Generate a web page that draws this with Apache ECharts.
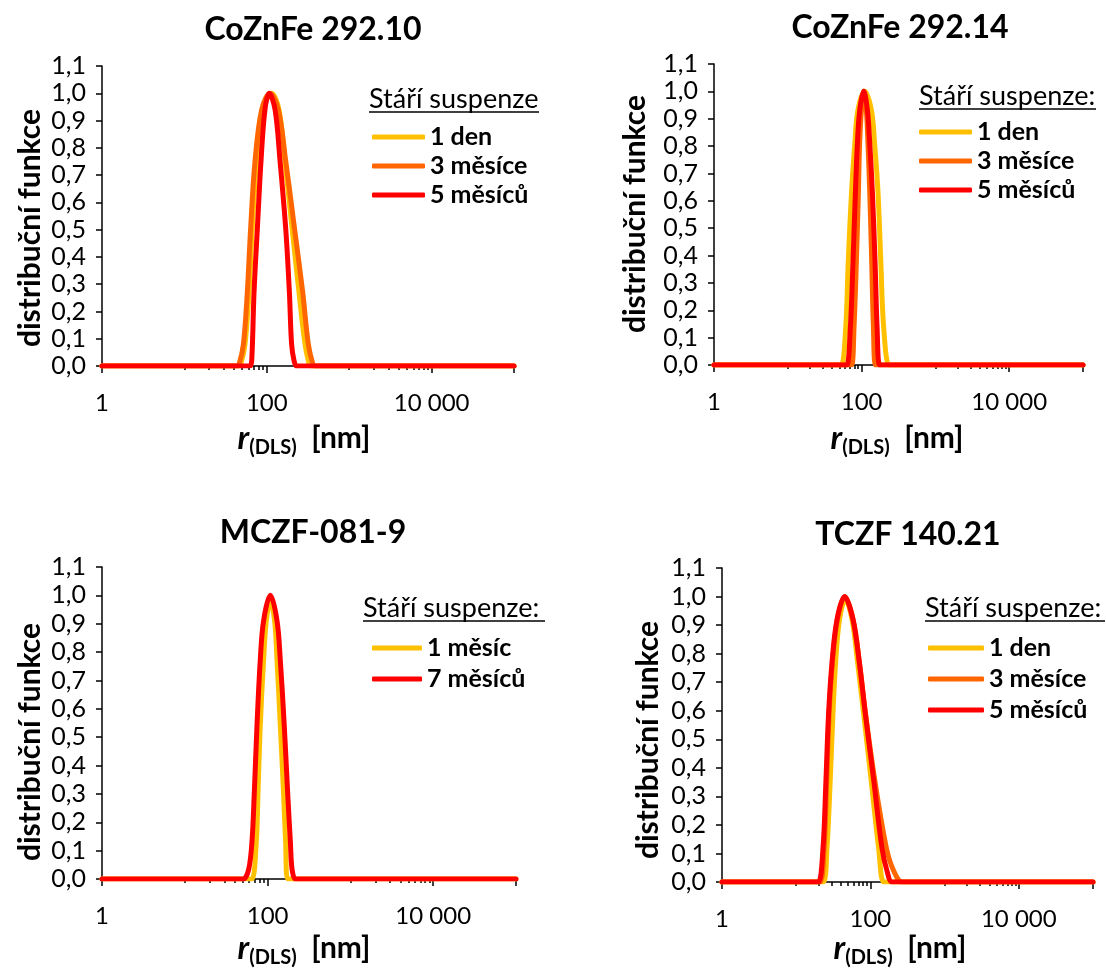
<!DOCTYPE html>
<html>
<head>
<meta charset="utf-8">
<script src="https://cdn.jsdelivr.net/npm/echarts@6/dist/echarts.min.js"></script>
<style>
html,body{margin:0;padding:0;background:#fff;}
#chart{width:1106px;height:973px;}
</style>
</head>
<body>
<div id="chart"></div>
<script>
// ---------- data ----------
const titles = ['CoZnFe 292.10', 'CoZnFe 292.14', 'MCZF-081-9', 'TCZF 140.21'];
const legendTitles = ['Stáří suspenze', 'Stáří suspenze:', 'Stáří suspenze:', 'Stáří suspenze:'];
const yName = 'distribuční funkce';
const xMajorLabels = [1, 100, 10000];
const xMajorTicks = [1, 100, 10000, 100000];
const xMinorTicks = [10, 20, 30, 40, 50, 60, 70, 80, 90, 1000, 2000, 3000, 4000, 5000, 6000, 7000, 8000, 9000];

// panel 1: CoZnFe 292.10
const p1_den1 = [[1,0],[40,0],[45.4,0],[48.6,0.01],[54.4,0.08],[60.8,0.27],[66.7,0.51],[75.4,0.75],[89.9,0.94],[114,1.0],[140.6,0.94],[166.3,0.75],[202,0.51],[246,0.27],[291,0.08],[325,0.01],[344,0],[400,0],[100000,0]];
const p1_mes3 = [[1,0],[38,0],[43.1,0],[46.4,0.01],[52,0.08],[58,0.27],[63.8,0.51],[71.9,0.75],[86.7,0.94],[109.3,1.0],[138,0.94],[170,0.75],[215.7,0.51],[272.8,0.27],[319,0.08],[360,0.01],[385,0],[450,0],[100000,0]];
const p1_mes5 = [[1,0],[55,0],[62.5,0],[65.6,0.02],[70,0.27],[76.7,0.5],[85,0.75],[95,0.94],[107,1.0],[126,0.94],[145,0.75],[170,0.5],[188,0.27],[200,0.08],[214,0.02],[230,0],[270,0],[100000,0]];

// panel 2: CoZnFe 292.14
const p2_den1 = [[1,0],[46,0],[53,0],[61,0.14],[66,0.38],[73,0.63],[81,0.81],[89,0.93],[110,1.0],[136,0.93],[150,0.81],[167,0.63],[182,0.38],[199,0.14],[235,0],[270,0],[100000,0]];
const p2_mes3 = [[1,0],[65,0],[73,0],[79,0.14],[85,0.38],[90.5,0.63],[94,0.81],[99.4,0.93],[107,1.0],[116,0.93],[122,0.81],[129,0.63],[137,0.38],[144.5,0.14],[155,0],[175,0],[100000,0]];
const p2_mes5 = [[1,0],[56,0],[63,0],[70.5,0.14],[76.5,0.38],[82.4,0.63],[87.7,0.81],[94.2,0.93],[107,1.0],[120,0.93],[129,0.81],[140,0.63],[152,0.38],[162,0.14],[176,0],[200,0],[100000,0]];

// panel 3: MCZF-081-9
const p3_mes1 = [[1,0],[58,0],[65,0],[73,0.13],[76.5,0.30],[81.5,0.54],[89.4,0.77],[96.4,0.91],[108,0.98],[121.6,0.91],[130,0.77],[142.5,0.54],[156,0.30],[165,0.13],[175,0],[200,0],[100000,0]];
const p3_mes7 = [[1,0],[45,0],[51,0],[59,0.033],[64.7,0.13],[69,0.30],[74.4,0.54],[81.5,0.77],[89.4,0.91],[108,1.0],[130,0.91],[142.5,0.77],[159,0.54],[175,0.30],[188.5,0.13],[197.6,0.033],[217,0],[250,0],[100000,0]];

// panel 4: TCZF 140.21
const p4_den1 = [[1,0],[20,0],[23.4,0],[26,0.12],[28.8,0.36],[31.3,0.59],[34,0.77],[38.4,0.92],[46,0.99],[56.5,0.92],[67.2,0.77],[81,0.59],[102,0.36],[129,0.12],[150.6,0],[175,0],[100000,0]];
const p4_mes3 = [[1,0],[18,0],[21,0],[23.8,0.12],[25.8,0.36],[27.8,0.59],[30.8,0.77],[36,0.92],[45,1.0],[58.3,0.92],[71,0.77],[86,0.59],[114,0.36],[164,0.12],[205,0.04],[267,0],[310,0],[100000,0]];
const p4_mes5 = [[1,0],[17.5,0],[20,0],[23,0.12],[25.2,0.36],[27.3,0.59],[30.4,0.77],[35.5,0.92],[45,1.0],[58.3,0.92],[70.9,0.77],[85.4,0.59],[110.4,0.36],[143,0.12],[167,0.04],[195,0],[230,0],[100000,0]];

// ---------- styling ----------
const FONT = 'Lato, "Noto Sans", sans-serif';
const C_YEL = '#FFC000', C_ORA = '#FF6600', C_RED = '#FF0000';

const grids = [
  {left: 102, top: 66, width: 412, height: 300},
  {left: 714, top: 64, width: 369, height: 301},
  {left: 102, top: 567, width: 414, height: 312},
  {left: 722, top: 568, width: 371, height: 314}
];

function fmtX(v) {
  const n = Math.round(v);
  return String(n).replace(/\B(?=(\d{3})+(?!\d))/g, ' ');
}
const axisLineStyle = {color: '#000', width: 1.5};

const xAxes = [], yAxes = [];
grids.forEach((g, i) => {
  xAxes.push({
    type: 'log', logBase: 10, gridIndex: i, min: 1, max: 100000, position: 'bottom',
    axisLine: {show: true, onZero: false, lineStyle: axisLineStyle},
    axisTick: {show: true, length: 7, lineStyle: axisLineStyle, customValues: xMajorTicks},
    axisLabel: {show: true, customValues: xMajorLabels, formatter: fmtX, fontSize: 24, color: '#000', fontFamily: FONT, margin: 25},
    splitLine: {show: false}, minorTick: {show: false}
  });
  xAxes.push({
    type: 'log', logBase: 10, gridIndex: i, min: 1, max: 100000, position: 'bottom',
    axisLine: {show: false},
    axisTick: {show: true, length: 4, lineStyle: axisLineStyle, customValues: xMinorTicks},
    axisLabel: {show: false},
    splitLine: {show: false}, minorTick: {show: false}
  });
  yAxes.push({
    type: 'value', gridIndex: i, min: 0, max: 1.1, interval: 0.1,
    axisLine: {show: true, lineStyle: axisLineStyle},
    axisTick: {show: true, length: 6, lineStyle: axisLineStyle},
    axisLabel: {formatter: v => v.toFixed(1).replace('.', ','), fontSize: 25, color: '#000', fontFamily: FONT, margin: 16},
    splitLine: {show: false}
  });
});

function ser(name, data, color, gi) {
  return {
    name: name, type: 'line', data: data, xAxisIndex: gi * 2, yAxisIndex: gi,
    showSymbol: false, symbol: 'none', smooth: 0.35,
    lineStyle: {width: 5, color: color, cap: 'round', join: 'round'},
    itemStyle: {color: color}, z: 3, silent: true
  };
}

const series = [
  ser('1 den', p1_den1, C_YEL, 0), ser('3 měsíce', p1_mes3, C_ORA, 0), ser('5 měsíců', p1_mes5, C_RED, 0),
  ser('1 den', p2_den1, C_YEL, 1), ser('3 měsíce', p2_mes3, C_ORA, 1), ser('5 měsíců', p2_mes5, C_RED, 1),
  ser('1 měsíc', p3_mes1, C_YEL, 2), ser('7 měsíců', p3_mes7, C_RED, 2),
  ser('1 den', p4_den1, C_YEL, 3), ser('3 měsíce', p4_mes3, C_ORA, 3), ser('5 měsíců', p4_mes5, C_RED, 3)
];

const legendText = {fontSize: 25, fontWeight: 'bold', color: '#000', fontFamily: FONT, lineHeight: 28};
const legendBase = {orient: 'vertical', icon: 'roundRect', itemHeight: 5, selectedMode: false, padding: 0, textStyle: legendText};
const legends = [
  Object.assign({}, legendBase, {data: ['1 den', '3 měsíce', '5 měsíců'], left: 372, top: 123, itemWidth: 53, itemGap: 1}),
  Object.assign({}, legendBase, {data: ['1 den', '3 měsíce', '5 měsíců'], left: 919, top: 118, itemWidth: 53, itemGap: 1}),
  Object.assign({}, legendBase, {data: ['1 měsíc', '7 měsíců'], left: 372, top: 634, itemWidth: 50, itemGap: 3}),
  Object.assign({}, legendBase, {data: ['1 den', '3 měsíce', '5 měsíců'], left: 928, top: 634, itemWidth: 56, itemGap: 3})
];

// graphic texts
const titlePos = [[313, 30], [900, 28], [313, 533], [908, 535]];
const yNamePos = [[30, 228], [635, 214], [30, 742], [648, 740]];
const xNamePos = [[304, 438], [897, 438], [304, 948], [900, 948]];
const legTitlePos = [[369, 99, 539], [919, 96, 1096], [363, 608, 545], [925, 608, 1105]];

const graphic = [];
titles.forEach((t, i) => {
  graphic.push({type: 'text', x: titlePos[i][0], y: titlePos[i][1], style: {text: t, fontSize: 32, fontWeight: 'bold', fontFamily: FONT, fill: '#000', align: 'center', verticalAlign: 'middle'}});
  graphic.push({type: 'text', x: yNamePos[i][0], y: yNamePos[i][1], rotation: Math.PI / 2, style: {text: yName, fontSize: 30, fontWeight: 'bold', fontFamily: FONT, fill: '#000', align: 'center', verticalAlign: 'middle'}});
  graphic.push({type: 'text', x: xNamePos[i][0], y: xNamePos[i][1], style: {
    text: '{r|r}{s|(DLS)}{n|  [nm]}', align: 'center', verticalAlign: 'middle', fill: '#000',
    rich: {
      r: {fontSize: 33, fontWeight: 'bold', fontStyle: 'italic', fontFamily: FONT, lineHeight: 40, verticalAlign: 'middle'},
      s: {fontSize: 20, fontWeight: 'bold', fontFamily: FONT, lineHeight: 20, verticalAlign: 'bottom'},
      n: {fontSize: 30, fontWeight: 'bold', fontFamily: FONT, lineHeight: 40, verticalAlign: 'middle'}
    }
  }});
  const lt = legTitlePos[i];
  graphic.push({type: 'text', x: lt[0], y: lt[1], style: {text: legendTitles[i], fontSize: 27, fontFamily: FONT, fill: '#000', align: 'left', verticalAlign: 'middle'}});
  graphic.push({type: 'line', shape: {x1: lt[0], y1: lt[1] + 13, x2: lt[2], y2: lt[1] + 13}, style: {stroke: '#000', lineWidth: 1.5}});
});

const chart = echarts.init(document.getElementById('chart'), null, {renderer: 'canvas'});
chart.setOption({
  backgroundColor: '#fff',
  animation: false,
  grid: grids,
  xAxis: xAxes,
  yAxis: yAxes,
  legend: legends,
  series: series,
  graphic: graphic
});
</script>
</body>
</html>
